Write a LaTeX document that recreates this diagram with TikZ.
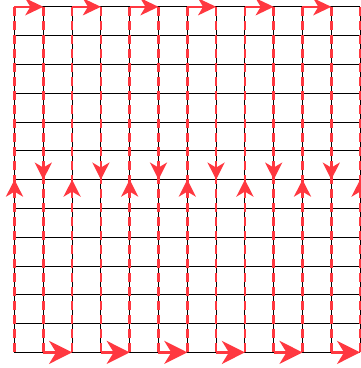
\documentclass[tikz,border=0pt]{standalone}
\usetikzlibrary{arrows.meta,decorations.markings}
\definecolor{pathred}{RGB}{255,56,64}
\tikzset{
  gridline/.style={black, line width=0.9pt},
  redpath/.style={pathred, line width=2.6pt, dash pattern=on 9pt off 5pt},
  redshaft/.style={pathred, line width=2.6pt},
  vtip/.style={postaction={decorate}, decoration={markings, mark=at position 0.5 with {\arrow[pathred]{Stealth[length=17pt,width=17pt,inset=5pt]}}}},
  toptip/.style={-{Stealth[length=18pt,width=17pt,inset=5pt]}},
  bottip/.style={-{Stealth[length=23pt,width=23pt,inset=7pt]}},
}
\begin{document}
\begin{tikzpicture}[x=1pt,y=1pt]
\useasboundingbox (0,0) rectangle (361,368);
\clip (0,0) rectangle (361,368);
\foreach \i in {0,...,12} {
  \coordinate (t\i) at ({14.5+28.8*\i},361.2);
  \coordinate (b\i) at ({14.5+28.8*\i},15.6);
  \coordinate (l\i) at (14.5,{15.6+28.8*\i});
  \coordinate (r\i) at (360.1,{15.6+28.8*\i});
}
\foreach \i in {0,...,12} {
  \draw[gridline] (b\i) -- (t\i);
  \draw[gridline] (l\i) -- (r\i);
}
% upward columns
\foreach \i in {0,2,...,12} {
  \draw[redpath, vtip] (b\i) -- (t\i);
}
% downward columns
\foreach \i in {1,3,...,11} {
  \draw[redpath, vtip] (t\i) -- (b\i);
}
% top connectors
\foreach \i/\j in {0/1,2/3,4/5,6/7,8/9,10/11} {
  \draw[redshaft, toptip] (t\i) -- (t\j);
}
% bottom connectors
\foreach \i/\j in {1/2,3/4,5/6,7/8,9/10,11/12} {
  \draw[redshaft, bottip] (b\i) -- (b\j);
}
\end{tikzpicture}
\end{document}
